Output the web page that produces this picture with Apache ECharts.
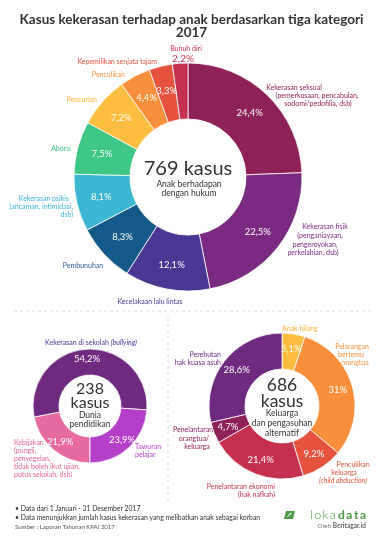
<!DOCTYPE html>
<html><head><meta charset="utf-8">
<script src="https://cdn.jsdelivr.net/npm/echarts@6/dist/echarts.min.js"></script>
<style>html,body{margin:0;padding:0;background:#fff}#c{width:383px;height:540px}</style>
</head><body><div id="c"></div>
<script>
// ---------- DATA ----------
const titleLines = ['Kasus kekerasan terhadap anak berdasarkan tiga kategori', '2017'];

const anakCategories = ['Kekerasan seksual', 'Kekerasan fisik', 'Kecelakaan lalu lintas', 'Pembunuhan', 'Kekerasan psikis', 'Aborsi', 'Pencurian', 'Penculikan', 'Kepemilikan senjata tajam', 'Bunuh diri'];
const anakValues = [24.4, 22.5, 12.1, 8.3, 8.1, 7.5, 7.2, 4.4, 3.3, 2.2];
const anakLabels = [
  ['Kekerasan seksual', '(pemerkosaan, pencabulan,', 'sodomi/pedofilia, dsb)'],
  ['Kekerasan fisik', '(penganiayaan,', 'pengeroyokan,', 'perkelahian, dsb)'],
  ['Kecelakaan lalu lintas'],
  ['Pembunuhan'],
  ['Kekerasan psikis', '(ancaman, intimidasi,', 'dsb)'],
  ['Aborsi'],
  ['Pencurian'],
  ['Penculikan'],
  ['Kepemilikan senjata tajam'],
  ['Bunuh diri']
];
const anakTotal = 769;
const anakCenterText = ['Anak berhadapan', 'dengan hukum'];

const sekolahCategories = ['Kebijakan', 'Kekerasan di sekolah (bullying)', 'Tawuran pelajar'];
const sekolahValues = [21.9, 54.2, 23.9];
const sekolahLabels = [
  ['Kebijakan', '(pungli,', 'penyegelan,', 'tidak boleh ikut ujian,', 'putus sekolah, dsb)'],
  ['Kekerasan di sekolah (bullying)'],
  ['Tawuran', 'pelajar']
];
const sekolahTotal = 238;
const sekolahCenterText = ['Dunia', 'pendidikan'];

const keluargaCategories = ['Anak hilang', 'Pelarangan bertemu orangtua', 'Penculikan keluarga', 'Penelantaran ekonomi', 'Penelantaran orangtua/keluarga', 'Perebutan hak kuasa asuh'];
const keluargaValues = [5.1, 31, 9.2, 21.4, 4.7, 28.6];
const keluargaLabels = [
  ['Anak hilang'],
  ['Pelarangan', 'bertemu', 'orangtua'],
  ['Penculikan', 'keluarga', '(child abduction)'],
  ['Penelantaran ekonomi', '(hak nafkah)'],
  ['Penelantaran', 'orangtua/', 'keluarga'],
  ['Perebutan', 'hak kuasa asuh']
];
const keluargaTotal = 686;
const keluargaCenterText = ['Keluarga', 'dan pengasuhan', 'alternatif'];

const italicTerms = ['(bullying)', '(child abduction)'];

const footerNotes = ['Data dari 1 Januari - 31 Desember 2017', 'Data menunjukkan jumlah kasus kekerasan yang melibatkan anak sebagai korban'];
const sourceText = 'Sumber : Laporan Tahunan KPAI 2017';
const brandParts = ['loka', 'data'];
const brandSub = ['Oleh ', 'Beritagar.id'];

// ---------- STYLE / LAYOUT ----------
const FONT = 'Lato, "Noto Sans", sans-serif';
const anakColors = ['#8E2157', '#7A2A80', '#4A3794', '#135A8A', '#3AB7D3', '#3DC785', '#FDBD3E', '#F98F3A', '#E5533F', '#C5304F'];
const anakLabelColors = ['#8E2157', '#7A2A80', '#4A3794', '#2B5F96', '#3AB7D3', '#3DC785', '#F9B73C', '#F98F3A', '#E5533F', '#C5304F'];
const sekolahColors = ['#E66A9F', '#6E2A7F', '#B53FC9'];
const sekolahLabelColors = ['#E8609A', '#4A3794', '#B53FC9'];
const keluargaColors = ['#FDBD3E', '#F98F3A', '#E5533F', '#C5304F', '#8E2157', '#6E2A7F'];
const keluargaLabelColors = ['#F9B73C', '#F98F3A', '#E5533F', '#C5304F', '#8E2157', '#6E2A7F'];

// label layout: line x positions, first line y, alignment, line height
const anakLayout = [
  {x: [294, 317, 318], y: 88, align: 'center', lh: 8},
  {x: [325, 320, 315, 313], y: 227, align: 'center', lh: 8.7},
  {x: [150], y: 302, align: 'center'},
  {x: [83], y: 266, align: 'center'},
  {x: [69, 73, 73], y: 199, align: 'right', lh: 7.8},
  {x: [71], y: 149, align: 'right'},
  {x: [97], y: 100, align: 'right'},
  {x: [125], y: 75, align: 'right'},
  {x: [157], y: 62, align: 'right'},
  {x: [186], y: 49, align: 'center'}
];
const sekolahLayout = [
  {x: [14, 14, 14, 14, 14], y: 443, align: 'left', lh: 8},
  {x: [91], y: 343, align: 'center'},
  {x: [135, 135], y: 447, align: 'left', lh: 8}
];
const keluargaLayout = [
  {x: [282], y: 329, align: 'left'},
  {x: [352, 351, 355], y: 347, align: 'center', lh: 8},
  {x: [353, 344, 343], y: 465, align: 'center', lh: 8},
  {x: [275, 275], y: 487, align: 'right', lh: 8},
  {x: [193, 194, 197], y: 430, align: 'center', lh: 8.5},
  {x: [221, 221], y: 355, align: 'right', lh: 8}
];

function fmtPct(v) { return String(v).replace('.', ',') + '%'; }

function richLine(s) {
  for (const t of italicTerms) {
    if (s.indexOf(t) >= 0) {
      const pre = s.slice(0, s.indexOf(t));
      const post = s.slice(s.indexOf(t) + t.length);
      return (pre ? '{n|' + pre + '}' : '') + '{i|' + t + '}' + (post ? '{n|' + post + '}' : '');
    }
  }
  return '{n|' + s + '}';
}

const graphics = [];
function addText(text, x, y, color, size, align, weight, extra) {
  graphics.push(Object.assign({
    type: 'text', silent: true,
    style: {
      text: text, x: x, y: y, fill: color, fontFamily: FONT, fontSize: size,
      fontWeight: weight || 'normal', align: align || 'center', verticalAlign: 'middle'
    }
  }, extra || {}));
}
function addLabelSet(labels, layout, colors) {
  labels.forEach((lines, i) => {
    const L = layout[i];
    lines.forEach((ln, j) => {
      const col = colors[i];
      graphics.push({
        type: 'text', silent: true,
        style: {
          text: richLine(ln), x: L.x[j], y: L.y + j * (L.lh || 8),
          align: L.align, verticalAlign: 'middle',
          rich: {
            n: {fill: col, color: col, fontFamily: FONT, fontSize: 7},
            i: {fill: col, color: col, fontFamily: FONT, fontSize: 7, fontStyle: 'italic'}
          }
        }
      });
    });
  });
}

// title
addText(titleLines[0], 191.5, 20, '#333333', 13.5, 'center', 'bold');
addText(titleLines[1], 191.5, 33, '#333333', 13.5, 'center', 'bold');

addLabelSet(anakLabels, anakLayout, anakLabelColors);
addLabelSet(sekolahLabels, sekolahLayout, sekolahLabelColors);
addLabelSet(keluargaLabels, keluargaLayout, keluargaLabelColors);

// center texts
addText(anakTotal + ' kasus', 188, 169, '#333333', 20, 'center', 'normal');
anakCenterText.forEach((t, j) => addText(t, 189, 184 + j * 9.5, '#333333', 8.5));
addText(String(sekolahTotal), 90, 389, '#333333', 16);
addText('kasus', 90, 403, '#333333', 16);
sekolahCenterText.forEach((t, j) => addText(t, 90, 415 + j * 9, '#333333', 8.5));
addText(String(keluargaTotal), 282, 385, '#333333', 17.5);
addText('kasus', 282, 401, '#333333', 17.5);
keluargaCenterText.forEach((t, j) => addText(t, 282, 413.5 + j * 9.8, '#333333', 8.5));

// separators
graphics.push({type: 'line', silent: true, shape: {x1: 14, y1: 311, x2: 372, y2: 311}, style: {stroke: '#cfcfcf', lineWidth: 0.8, lineDash: [3, 3]}});
graphics.push({type: 'line', silent: true, shape: {x1: 168, y1: 318, x2: 168, y2: 502}, style: {stroke: '#cfcfcf', lineWidth: 0.8, lineDash: [3, 3]}});

// footer
footerNotes.forEach((t, j) => addText('\u2022 ' + t, 15, 509 + j * 9, '#333333', 6.8, 'left'));
addText(sourceText, 15, 527, '#555555', 6, 'left');

// brand
graphics.push({type: 'polygon', silent: true, shape: {points: [[286, 511], [295, 511], [293, 519], [284, 519]]}, style: {fill: '#4C9A45'}});
graphics.push({type: 'line', silent: true, shape: {x1: 287, y1: 517, x2: 292, y2: 513}, style: {stroke: '#fff', lineWidth: 0.8}});
graphics.push({type: 'line', silent: true, shape: {x1: 288, y1: 515, x2: 291, y2: 513}, style: {stroke: '#fff', lineWidth: 0.6}});
graphics.push({
  type: 'text', silent: true,
  style: {
    text: '{l|' + brandParts[0].split('').join('\u2009') + '}\u2009{b|' + brandParts[1].split('').join('\u2009') + '}',
    x: 366, y: 515, align: 'right', verticalAlign: 'middle',
    rich: {
      l: {fill: '#4C9A45', color: '#4C9A45', fontFamily: FONT, fontSize: 12, fontWeight: 300},
      b: {fill: '#4C9A45', color: '#4C9A45', fontFamily: FONT, fontSize: 12, fontWeight: 'bold'}
    }
  }
});
graphics.push({
  type: 'text', silent: true,
  style: {
    text: '{l|' + brandSub[0] + '}{b|' + brandSub[1] + '}',
    x: 366, y: 526, align: 'right', verticalAlign: 'middle',
    rich: {
      l: {fill: '#777', color: '#777', fontFamily: FONT, fontSize: 6.5},
      b: {fill: '#666', color: '#666', fontFamily: FONT, fontSize: 6.5, fontWeight: 'bold'}
    }
  }
});

function pieData(cats, vals, colors) {
  return cats.map((c, i) => ({name: c, value: vals[i], itemStyle: {color: colors[i]}}));
}
const baseLabel = {
  show: true, position: 'inside', color: '#ffffff', fontFamily: FONT, fontSize: 9.5,
  formatter: p => fmtPct(p.value)
};
const anakData = pieData(anakCategories, anakValues, anakColors);
anakData[9].label = {color: '#C5304F', fontSize: 10};

const option = {
  animation: false,
  backgroundColor: '#ffffff',
  series: [
    {
      type: 'pie', center: [188, 177], radius: [58, 114], startAngle: 90, clockwise: true,
      data: anakData, label: baseLabel, labelLine: {show: false},
      itemStyle: {borderColor: '#ffffff', borderWidth: 0.8},
      emphasis: {disabled: true},
      labelLayout: p => p.dataIndex === 9 ? {x: 183, y: 59, align: 'center', verticalAlign: 'middle'} : null
    },
    {
      type: 'pie', center: [90, 406], radius: [31, 57], startAngle: -90, clockwise: true,
      data: pieData(sekolahCategories, sekolahValues, sekolahColors), label: baseLabel, labelLine: {show: false},
      itemStyle: {borderColor: '#ffffff', borderWidth: 0.8},
      emphasis: {disabled: true}
    },
    {
      type: 'pie', center: [282, 406], radius: [37, 73], startAngle: 90, clockwise: true,
      data: pieData(keluargaCategories, keluargaValues, keluargaColors), label: baseLabel, labelLine: {show: false},
      itemStyle: {borderColor: '#ffffff', borderWidth: 0.8},
      emphasis: {disabled: true}
    }
  ],
  graphic: graphics
};
const chart = echarts.init(document.getElementById('c'), null, {renderer: 'canvas'});
chart.setOption(option);
</script>
</body></html>
